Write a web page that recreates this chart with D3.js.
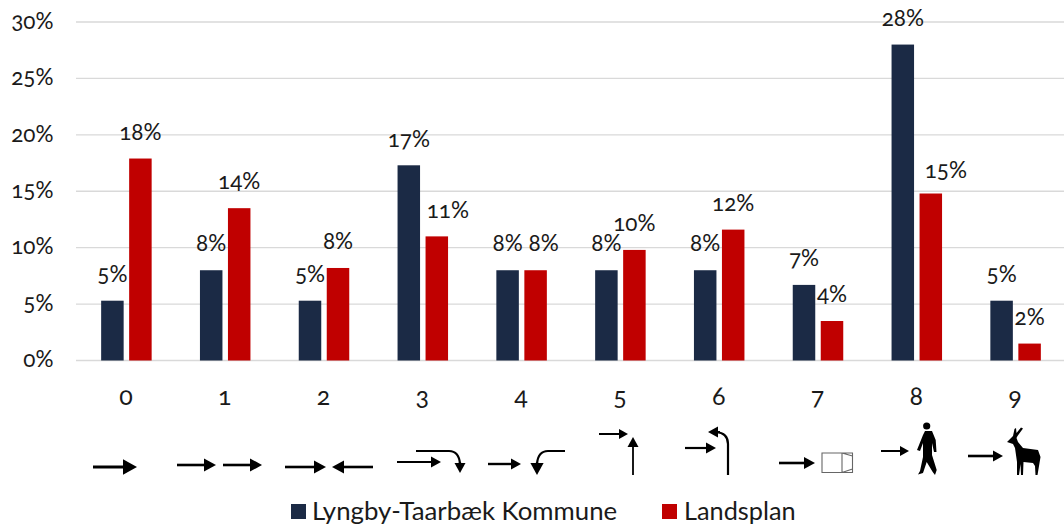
<!DOCTYPE html>
<html>
<head>
<meta charset="utf-8">
<script src="https://cdn.jsdelivr.net/npm/d3@7"></script>
<style>
  html, body { margin: 0; padding: 0; background: #fff; }
  svg { display: block; }
  text { font-family: Lato, "Noto Sans", sans-serif; font-feature-settings: "onum" 1; fill: #1a1a1a; }
</style>
</head>
<body>
<svg id="chart" width="1064" height="524"></svg>
<script>
const categories = ['0', '1', '2', '3', '4', '5', '6', '7', '8', '9'];
const kommune = [5.3, 8, 5.3, 17.3, 8, 8, 8, 6.7, 28, 5.3];
const landsplan = [17.9, 13.5, 8.2, 11, 8, 9.8, 11.6, 3.5, 14.8, 1.5];
const kommuneLabels = ['5%', '8%', '5%', '17%', '8%', '8%', '8%', '7%', '28%', '5%'];
const landsplanLabels = ['18%', '14%', '8%', '11%', '8%', '10%', '12%', '4%', '15%', '2%'];
const yTicks = [0, 5, 10, 15, 20, 25, 30];
const seriesNames = ['Lyngby-Taarbæk Kommune', 'Landsplan'];

const NAVY = '#1b2a45';
const RED = '#c00000';

const svg = d3.select('#chart');
const x = d3.scaleBand().domain(categories).range([77, 1065]);
const y = d3.scaleLinear().domain([0, 30]).range([360.5, 22]);
const barW = 22.5;
const barGap = 5.5;

// grid
svg.append('g').selectAll('line').data(yTicks).join('line')
  .attr('x1', 76).attr('x2', 1064)
  .attr('y1', d => y(d)).attr('y2', d => y(d))
  .attr('stroke', '#d9d9d9').attr('stroke-width', 1.4);

// y tick labels
svg.append('g').selectAll('text').data(yTicks).join('text')
  .attr('x', 53.5).attr('y', d => y(d))
  .attr('dy', '0.3em').attr('text-anchor', 'end')
  .attr('font-size', 22.5).text(d => d + '%');

// bars
const barsK = svg.append('g').attr('fill', NAVY);
barsK.selectAll('rect').data(kommune).join('rect')
  .attr('x', (d, i) => x(categories[i]) + x.bandwidth() / 2 - barGap / 2 - barW)
  .attr('y', d => y(d)).attr('width', barW)
  .attr('height', d => y(0) - y(d));

const barsL = svg.append('g').attr('fill', RED);
barsL.selectAll('rect').data(landsplan).join('rect')
  .attr('x', (d, i) => x(categories[i]) + x.bandwidth() / 2 + barGap / 2)
  .attr('y', d => y(d)).attr('width', barW)
  .attr('height', d => y(0) - y(d));

// data labels, a few were dragged out of place in the original
const landsplanNudgeX = [0, 0, 0, 11, 8, 0, 0, 0, 15, 0];
const landsplanNudgeY = [0, 0, 0, 0, 0, 0, 0, 0, 3, 0];
const labelLift = 25.5;
svg.append('g').selectAll('text').data(kommune).join('text')
  .attr('x', (d, i) => x(categories[i]) + x.bandwidth() / 2 - barGap / 2 - barW / 2)
  .attr('y', d => y(d) - labelLift).attr('dy', '0.3em')
  .attr('text-anchor', 'middle').attr('font-size', 22.5)
  .text((d, i) => kommuneLabels[i]);
svg.append('g').selectAll('text').data(landsplan).join('text')
  .attr('x', (d, i) => x(categories[i]) + x.bandwidth() / 2 + barGap / 2 + barW / 2 + landsplanNudgeX[i])
  .attr('y', (d, i) => y(d) - labelLift + landsplanNudgeY[i]).attr('dy', '0.3em')
  .attr('text-anchor', 'middle').attr('font-size', 22.5)
  .text((d, i) => landsplanLabels[i]);

// category labels
svg.append('g').selectAll('text').data(categories).join('text')
  .attr('x', d => x(d) + x.bandwidth() / 2 - 0.5)
  .attr('y', 397).attr('dy', '0.3em')
  .attr('text-anchor', 'middle').attr('font-size', 25)
  .text(d => d);

// ── Manoeuvre icons ─────────────────────────────
const icons = svg.append('g');

function arrow(x1, y1, x2, y2, sw, head) {
  // straight shaft with a filled head pointing at x2,y2
  const a = Math.atan2(y2 - y1, x2 - x1);
  const bx = x2 - Math.cos(a) * head, by = y2 - Math.sin(a) * head;
  const nx = -Math.sin(a) * head * 0.55, ny = Math.cos(a) * head * 0.55;
  icons.append('line').attr('x1', x1).attr('y1', y1).attr('x2', bx).attr('y2', by)
    .attr('stroke', '#000').attr('stroke-width', sw);
  icons.append('polygon').attr('points', `${x2},${y2} ${bx + nx},${by + ny} ${bx - nx},${by - ny}`)
    .attr('fill', '#000');
}

function curve(d, sw) {
  icons.append('path').attr('d', d).attr('fill', 'none')
    .attr('stroke', '#000').attr('stroke-width', sw);
}

arrow(93, 467, 137, 467, 3, 14);
arrow(177, 465, 216, 465, 2.6, 12);
arrow(223, 465, 262, 465, 2.6, 12);
arrow(285, 467, 326, 467, 2.6, 12);
arrow(373, 467, 332, 467, 2.6, 12);

arrow(397, 462, 441, 462, 2.2, 10);
curve('M416,451 H449 Q459,451 460,464', 2.2);
arrow(460, 462, 460, 473, 2.2, 10);

arrow(488, 464, 521, 464, 2.4, 10);
curve('M565,451 H548 Q538,451 537,464', 2.2);
arrow(537, 462, 537, 475, 2.2, 12);

arrow(599, 434, 628, 434, 2, 9);
arrow(633, 475, 633, 437, 1.8, 10);

arrow(685, 448, 716, 448, 2.2, 10);
curve('M728,475 V444 Q728,433 716,432', 2.2);
arrow(720, 432, 708, 432, 2.2, 10);

arrow(779, 463, 815, 463, 2.6, 11);
icons.append('path')
  .attr('d', 'M822,453 H852.5 V472.5 H822 Z M842,453 V472.5 M842,453 L852.5,456 M842,472.5 L852.5,469')
  .attr('fill', 'none').attr('stroke', '#666').attr('stroke-width', 1.1);

arrow(881, 451, 909, 451, 2, 9);
// pedestrian
icons.append('circle').attr('cx', 926.7).attr('cy', 426).attr('r', 3.6).attr('fill', '#000');
icons.append('path')
  .attr('d', 'M925,431 L932,431 L935.7,440 L936.5,452 L934,452 L932,443 L932,455 L936.7,470 L935,475 L932.7,472 L926.7,462 L923,473 L918,474.5 L920,471 L923,457 L923,443 L920,451 L917,450 L923,435 Z')
  .attr('fill', '#000');

arrow(968, 456, 1003, 456, 2.6, 10);
// deer
icons.append('path')
  .attr('d', 'M1007,442 L1013,436 L1014.5,429 L1016,428 L1016.5,433 L1021,427.5 L1023,428.5 L1017.5,436 L1016.5,438 L1018,442 L1023,448 L1038,450 L1040.5,457 L1037.5,475 L1035.5,475 L1035,466 L1033,463 L1023.5,462 L1023,475 L1021,475 L1020.5,464 L1019,475 L1017,475 L1017,462 L1015,448 L1013,444 Z')
  .attr('fill', '#000');

// ── Legend ──────────────────────────────────────
svg.append('rect').attr('x', 291).attr('y', 504).attr('width', 15).attr('height', 15).attr('fill', NAVY);
svg.append('text').attr('x', 312).attr('y', 520).attr('font-size', 25.8).text(seriesNames[0]);
svg.append('rect').attr('x', 662).attr('y', 504).attr('width', 15).attr('height', 15).attr('fill', RED);
svg.append('text').attr('x', 684).attr('y', 520).attr('font-size', 25.3).text(seriesNames[1]);
</script>
</body>
</html>
